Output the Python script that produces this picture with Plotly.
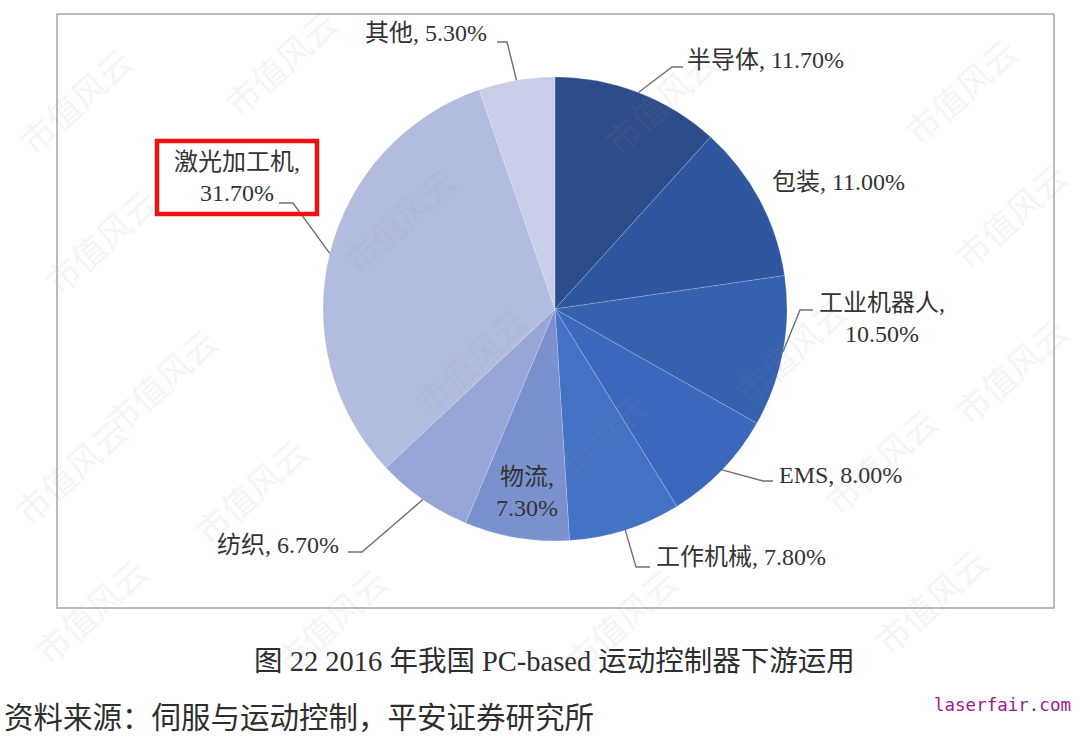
import math
import plotly.graph_objects as go

# ---------------- data ----------------
categories = ["半导体", "包装", "工业机器人", "EMS", "工作机械", "物流", "纺织", "激光加工机", "其他"]
shares = [11.70, 11.00, 10.50, 8.00, 7.80, 7.30, 6.70, 31.70, 5.30]
colors = ["#2C4D89", "#2F579F", "#3561AE", "#3B68BC", "#4472C4",
          "#7B91CF", "#97A6D6", "#B1BCDE", "#C9CEE8"]

title_text = "图 22 2016 年我国 PC-based 运动控制器下游运用"
source_text = "资料来源：伺服与运动控制，平安证券研究所"
site_text = "laserfair.com"
watermark_text = "市值风云"

# ---------------- layout constants (pixels) ----------------
W, H = 1080, 737
CX, CY, R = 555, 309, 232

label_layout = {
    "其他":       dict(tx=426, ty=33, xa="center", two=False, line=[(507, 42), (497, 42)]),
    "半导体":     dict(tx=685, ty=60, xa="left", two=False, line=[(672, 67), (683, 67)]),
    "包装":       dict(tx=770, ty=182, xa="left", two=False, line=None),
    "工业机器人": dict(tx=882, ty=318, xa="center", two=True, line=[(800, 310), (813, 310)]),
    "EMS":        dict(tx=777, ty=475, xa="left", two=False, line=[(763, 481), (773, 481)]),
    "工作机械":   dict(tx=654, ty=557, xa="left", two=False, line=[(636, 567), (650, 567)]),
    "物流":       dict(tx=527, ty=493, xa="center", two=True, line=None),
    "纺织":       dict(tx=341, ty=545, xa="right", two=False, line=[(362, 552), (348, 552)]),
    "激光加工机": dict(tx=237, ty=177, xa="center", two=True, line=[(293, 203), (279, 203)]),
}


def px(x):
    return x / W


def py(y):
    return 1 - y / H


fig = go.Figure()
fig.add_trace(go.Pie(
    labels=categories,
    values=shares,
    sort=False,
    direction="clockwise",
    rotation=0,
    marker=dict(colors=colors, line=dict(color="rgba(255,255,255,0.3)", width=0.6)),
    textinfo="none",
    hoverinfo="label+percent",
    showlegend=False,
    domain=dict(x=[px(CX - R), px(CX + R)], y=[py(CY + R), py(CY - R)]),
))

shapes = []
annotations = []

# frame
shapes.append(dict(type="rect", xref="paper", yref="paper",
                   x0=px(57), x1=px(1054), y0=py(608), y1=py(14),
                   line=dict(color="#A8A8A8", width=1.5), fillcolor="rgba(0,0,0,0)",
                   layer="below"))

label_font = dict(family="Liberation Serif, Noto Sans CJK SC, serif", size=24, color="#333333")

total = sum(shares)
cum = 0.0
for name, val in zip(categories, shares):
    mid = (cum + val / 2) / total * 2 * math.pi
    cum += val
    ex = CX + R * math.sin(mid)
    ey = CY - R * math.cos(mid)
    lay = label_layout[name]
    pct = f"{val:.2f}%"
    text = f"{name},<br>{pct}" if lay["two"] else f"{name}, {pct}"
    annotations.append(dict(x=px(lay["tx"]), y=py(lay["ty"]), xref="paper", yref="paper",
                            text=text, showarrow=False, xanchor=lay["xa"], yanchor="middle",
                            align="center", font=label_font))
    if lay["line"]:
        pts = [(ex, ey)] + lay["line"]
        path = "M " + " L ".join(f"{px(a)},{py(b)}" for a, b in pts)
        shapes.append(dict(type="path", xref="paper", yref="paper", path=path,
                           line=dict(color="#707070", width=1.4)))

# red highlight box around 激光加工机 label
shapes.append(dict(type="rect", xref="paper", yref="paper",
                   x0=px(157), x1=px(317), y0=py(214), y1=py(141),
                   line=dict(color="#EE1111", width=4.5)))

# title, source, site
annotations.append(dict(x=px(554), y=py(661), xref="paper", yref="paper", text=title_text,
                        showarrow=False, xanchor="center", yanchor="middle",
                        font=dict(family="Liberation Serif, Noto Sans CJK SC, serif", size=28.5, color="#2E2E2E")))
annotations.append(dict(x=px(2), y=py(715), xref="paper", yref="paper", text=source_text,
                        showarrow=False, xanchor="left", yanchor="middle",
                        font=dict(family="Noto Sans CJK SC, serif", size=29.5, color="#2E2E2E")))
annotations.append(dict(x=px(1073), y=py(705), xref="paper", yref="paper", text=site_text,
                        showarrow=False, xanchor="right", yanchor="middle",
                        font=dict(family="DejaVu Sans Mono, monospace", size=17.5, color="#A0168F")))

# watermark grid
wm_positions = [(75, 100), (280, 62), (660, 100), (960, 90),
                (100, 240), (400, 220), (1010, 215),
                (160, 380), (470, 360), (790, 350), (1010, 370),
                (70, 470), (250, 490), (590, 445), (880, 460),
                (90, 610), (330, 620), (620, 620), (930, 600)]
for (wx, wy) in wm_positions:
    annotations.append(dict(x=px(wx), y=py(wy), xref="paper", yref="paper", text=watermark_text,
                            showarrow=False, textangle=-42, xanchor="center", yanchor="middle",
                            font=dict(family="Noto Sans CJK SC, sans-serif", size=34,
                                      color="rgba(150,150,150,0.11)")))

fig.update_layout(
    width=W, height=H,
    margin=dict(l=0, r=0, t=0, b=0),
    paper_bgcolor="white",
    plot_bgcolor="white",
    shapes=shapes,
    annotations=annotations,
)

fig.write_html("out.html",
               config={"displayModeBar": False},
               post_script="document.body.style.margin='0';document.body.style.overflow='hidden';")
